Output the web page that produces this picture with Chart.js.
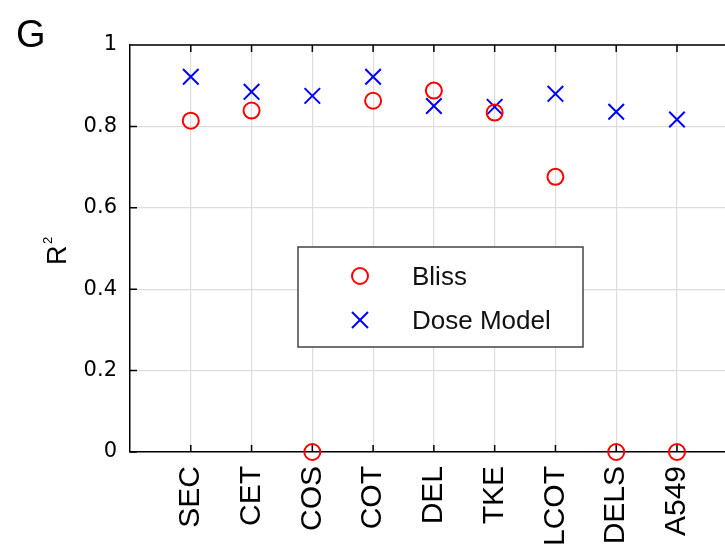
<!DOCTYPE html>
<html>
<head>
<meta charset="utf-8">
<script src="https://cdn.jsdelivr.net/npm/chart.js@4/dist/chart.umd.min.js"></script>
<style>
  html, body { margin: 0; padding: 0; background: #fff; overflow: hidden; }
  #wrap { width: 725px; height: 552px; }
</style>
</head>
<body>
<div id="wrap"><canvas id="r2-chart" width="725" height="552"></canvas></div>
<script>
// cell lines along x (placed at 1..9 on a linear axis)
const cellLines = ['SEC', 'CET', 'COS', 'COT', 'DEL', 'TKE', 'LCOT', 'DELS', 'A549'];
const blissR2 = [0.814, 0.839, 0, 0.863, 0.888, 0.834, 0.676, 0, 0];
const doseR2 = [0.922, 0.885, 0.875, 0.922, 0.850, 0.848, 0.880, 0.836, 0.817];
const yTicks = [0, 0.2, 0.4, 0.6, 0.8, 1];
const seriesNames = ['Bliss', 'Dose Model'];

const RED = '#ff0000';
const BLUE = '#0000ff';

// inward ticks, top frame line, legend box, panel letter and y title
const framePlugin = {
    id: 'frame',
    afterDraw(chart) {
        const { ctx, chartArea: a, scales } = chart;
        ctx.save();
        ctx.strokeStyle = '#000';
        ctx.lineWidth = 1.5;
        ctx.beginPath();
        ctx.moveTo(a.left, a.top);
        ctx.lineTo(a.right, a.top);
        scales.x.ticks.forEach(t => {
            const px = scales.x.getPixelForValue(t.value);
            ctx.moveTo(px, a.top);
            ctx.lineTo(px, a.top + 7);
            ctx.moveTo(px, a.bottom);
            ctx.lineTo(px, a.bottom - 7);
        });
        scales.y.ticks.forEach(t => {
            const py = scales.y.getPixelForValue(t.value);
            ctx.moveTo(a.left, py);
            ctx.lineTo(a.left + 7, py);
        });
        ctx.stroke();

        // panel letter
        ctx.fillStyle = '#000';
        ctx.font = '38px "Liberation Sans", Arial, sans-serif';
        ctx.textAlign = 'left';
        ctx.textBaseline = 'alphabetic';
        ctx.fillText('G', 16, 47);

        // y title (R with a small superscript 2)
        ctx.save();
        ctx.translate(66, 265);
        ctx.rotate(-Math.PI / 2);
        ctx.font = '27px "Liberation Sans", Arial, sans-serif';
        ctx.textAlign = 'left';
        ctx.fillText('R', 0, 0);
        ctx.font = '13px "Liberation Sans", Arial, sans-serif';
        ctx.fillText('2', 21, -14);
        ctx.restore();

        // legend
        const lx = 298, ly = 247, lw = 285, lh = 100;
        ctx.fillStyle = '#fff';
        ctx.fillRect(lx, ly, lw, lh);
        ctx.strokeStyle = '#444';
        ctx.lineWidth = 1.5;
        ctx.strokeRect(lx, ly, lw, lh);

        ctx.lineWidth = 2;
        ctx.strokeStyle = RED;
        ctx.beginPath();
        ctx.arc(360, 276, 8, 0, Math.PI * 2);
        ctx.stroke();

        ctx.strokeStyle = BLUE;
        ctx.beginPath();
        ctx.moveTo(352, 312); ctx.lineTo(368, 328);
        ctx.moveTo(368, 312); ctx.lineTo(352, 328);
        ctx.stroke();

        ctx.fillStyle = '#111';
        ctx.font = '26px "Liberation Sans", Arial, sans-serif';
        ctx.textAlign = 'left';
        ctx.fillText(seriesNames[0], 412, 285);
        ctx.fillText(seriesNames[1], 412, 329);
        ctx.restore();
    }
};

const ctx = document.getElementById('r2-chart').getContext('2d');

new Chart(ctx, {
    type: 'scatter',
    data: {
        datasets: [
            {
                label: seriesNames[0],
                data: blissR2.map((v, i) => ({ x: i + 1, y: v })),
                pointStyle: 'circle',
                pointRadius: 8,
                pointBorderWidth: 2,
                pointBorderColor: RED,
                pointBackgroundColor: 'rgba(0,0,0,0)',
                clip: false
            },
            {
                label: seriesNames[1],
                data: doseR2.map((v, i) => ({ x: i + 1, y: v })),
                pointStyle: 'crossRot',
                pointRadius: 11,
                pointBorderWidth: 2,
                pointBorderColor: BLUE,
                pointBackgroundColor: BLUE,
                clip: false
            }
        ]
    },
    options: {
        responsive: false,
        animation: false,
        layout: { autoPadding: false, padding: { top: 45, right: 0, left: 0, bottom: 0 } },
        plugins: {
            legend: { display: false },
            tooltip: { enabled: false }
        },
        scales: {
            x: {
                type: 'linear',
                min: 0,
                max: 9.79,
                afterBuildTicks: axis => {
                    axis.ticks = cellLines.map((_, i) => ({ value: i + 1 }));
                },
                afterFit: axis => {
                    axis.height = 100;
                    axis.paddingLeft = 0;
                    axis.paddingRight = 0;
                },
                ticks: {
                    autoSkip: false,
                    minRotation: 90,
                    maxRotation: 90,
                    padding: 14,
                    color: '#000',
                    font: { family: '"Liberation Sans", Arial, sans-serif', size: 30 },
                    callback: v => cellLines[v - 1]
                },
                grid: { color: '#dddddd', lineWidth: 1.2, drawTicks: false },
                border: { color: '#000', width: 1.5 }
            },
            y: {
                min: 0,
                max: 1,
                afterBuildTicks: axis => {
                    axis.ticks = yTicks.map(v => ({ value: v }));
                },
                afterFit: axis => { axis.width = 130; },
                ticks: {
                    padding: 13,
                    color: '#000',
                    font: { family: '"DejaVu Sans", sans-serif', size: 21 },
                    callback: v => String(v)
                },
                grid: { color: '#dddddd', lineWidth: 1.2, drawTicks: false },
                border: { color: '#000', width: 1.5 }
            }
        }
    },
    plugins: [framePlugin]
});
</script>
</body>
</html>
